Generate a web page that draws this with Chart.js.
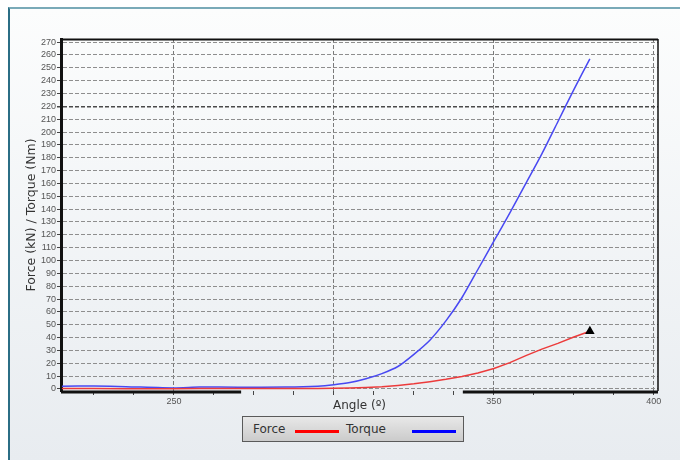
<!DOCTYPE html>
<html>
<head>
<meta charset="utf-8">
<script src="https://cdn.jsdelivr.net/npm/chart.js@4.4.1/dist/chart.umd.min.js"></script>
<style>
  html, body { margin: 0; padding: 0; background: #fff; }
  #wrap { position: relative; width: 680px; height: 460px; overflow: hidden; }
  #panel {
    position: absolute; left: 8px; top: 7px; right: 0; bottom: 0;
    border-top: 2px solid #7aaab8; border-left: 2px solid #2b6e85;
    background: linear-gradient(#fcfdfd, #e8ecf0);
  }
  #forceChart { position: absolute; left: 0; top: 0; }
  #legend {
    position: absolute; left: 242px; top: 416px; width: 220px; height: 24px;
    border: 1px solid #5a5a5a; background: linear-gradient(#e8e8e8, #cbcbcb);
    font: 12px "DejaVu Sans", sans-serif; color: #333;
  }
  #legend .name { position: absolute; top: 5px; line-height: 14px; }
  #legend .swatch { position: absolute; top: 13px; width: 44px; height: 3px; }
</style>
</head>
<body>
<div id="wrap">
  <div id="panel"></div>
  <canvas id="forceChart" width="680" height="460"></canvas>
  <div id="legend"></div>
</div>
<script>
// angle (deg) sampled along the stroke
const angles = [215, 225, 235, 250, 258, 270, 285, 295, 300, 305, 310, 315, 320, 325, 330, 335, 340, 345, 350, 355, 360, 365, 370, 375, 380];
const forceKN = [0.3, 0.3, 0.2, 0.2, 0.3, 0.3, 0.3, 0.4, 0.5, 0.8, 1.2, 1.8, 2.8, 4, 5.7, 7.5, 9.8, 12.5, 16, 20.5, 26, 31, 35.5, 40.5, 45];
const torqueNm = [2.2, 2.3, 1.8, 0.8, 1.5, 1.4, 1.5, 2.2, 3.3, 5, 8, 12, 17.5, 27, 38, 53, 71, 93, 115, 137, 160, 183, 208, 233, 257];

const seriesNames = ['Force', 'Torque'];
const seriesColors = ['#ec3b3b', '#4848f2'];
const swatchColors = ['#ff0000', '#0000ff'];

const yTicks = [0, 10, 20, 30, 40, 50, 60, 70, 80, 90, 100, 110, 120, 130, 140, 150, 160, 170, 180, 190, 200, 210, 220, 230, 240, 250, 260, 270];
const xTicks = [225, 237.5, 250, 262.5, 275, 287.5, 300, 312.5, 325, 337.5, 350, 362.5, 375, 387.5, 400];
const xLabels = [250, 350, 400];

function toPoints(ys) {
  return angles.map((a, i) => ({ x: a, y: ys[i] }));
}

// plot frame: top/right edges and the broken bottom axis
const framePlugin = {
  id: 'frame',
  afterDraw(chart) {
    const { ctx, chartArea: a, scales } = chart;
    const x = scales.x;
    ctx.save();
    ctx.strokeStyle = '#111';
    ctx.lineWidth = 2;
    ctx.beginPath();
    ctx.moveTo(a.left, a.top + 0.5);
    ctx.lineTo(a.right, a.top + 0.5);
    ctx.stroke();
    ctx.lineWidth = 1.5;
    ctx.beginPath();
    ctx.moveTo(a.right, a.top);
    ctx.lineTo(a.right, a.bottom);
    ctx.stroke();
    ctx.lineWidth = 3;
    ctx.beginPath();
    ctx.moveTo(a.left, a.bottom + 1);
    ctx.lineTo(x.getPixelForValue(271), a.bottom + 1);
    ctx.moveTo(x.getPixelForValue(340.3), a.bottom + 1);
    ctx.lineTo(a.right, a.bottom + 1);
    ctx.stroke();
    ctx.restore();
  }
};

const lastIdx = angles.length - 1;

const config = {
  type: 'line',
  data: {
    datasets: [{
      label: seriesNames[0],
      data: toPoints(forceKN),
      borderColor: seriesColors[0],
      borderWidth: 1.5,
      tension: 0,
      pointStyle: 'triangle',
      pointRadius: (c) => c.dataIndex === lastIdx ? 4 : 0,
      pointBackgroundColor: '#000',
      pointBorderColor: '#000',
      order: 1
    }, {
      label: seriesNames[1],
      data: toPoints(torqueNm),
      borderColor: seriesColors[1],
      borderWidth: 1.5,
      tension: 0.2,
      pointRadius: 0,
      order: 2
    }]
  },
  options: {
    responsive: false,
    animation: false,
    layout: { padding: { left: 18, top: 39, right: 22, bottom: 47 } },
    plugins: { legend: { display: false }, tooltip: { enabled: false } },
    scales: {
      x: {
        type: 'linear',
        min: 214.7,
        max: 401.3,
        afterBuildTicks: (s) => { s.ticks = xTicks.map(v => ({ value: v })); },
        afterFit: (s) => { s.height = 22; },
        ticks: {
          autoSkip: false,
          maxRotation: 0,
          padding: 1,
          color: '#555',
          font: { family: 'Liberation Sans', size: 9 },
          callback: (v) => xLabels.includes(v) ? String(v) : ''
        },
        grid: {
          color: (c) => (c.tick && c.tick.value % 50 === 0) ? '#7a7a7a' : 'rgba(0,0,0,0)',
          lineWidth: 1,
          tickLength: 4,
          tickColor: '#444',
          tickBorderDash: []
        },
        border: { display: false, dash: [4, 2] },
        title: {
          display: true,
          text: 'Angle (º)',
          color: '#333',
          font: { family: 'DejaVu Sans', size: 12 },
          padding: { top: 0, bottom: 0 }
        }
      },
      y: {
        min: -1.56,
        max: 272.4,
        afterBuildTicks: (s) => { s.ticks = yTicks.map(v => ({ value: v })); },
        afterFit: (s) => { s.width = 43; },
        ticks: {
          autoSkip: false,
          padding: 1,
          color: '#555',
          font: { family: 'Liberation Sans', size: 9 }
        },
        grid: {
          color: (c) => (c.tick && c.tick.value === 220) ? '#4a4a4a' : '#8e8e8e',
          lineWidth: (c) => (c.tick && c.tick.value === 220) ? 1.5 : 1,
          tickLength: 4,
          tickColor: '#444',
          tickBorderDash: []
        },
        border: { display: true, color: '#111', width: 3, dash: [4, 2] },
        title: {
          display: true,
          text: 'Force (kN) / Torque (Nm)',
          color: '#333',
          font: { family: 'DejaVu Sans', size: 12.5 },
          padding: { top: 6, bottom: 0 }
        }
      }
    }
  },
  plugins: [framePlugin]
};

const forceChart = new Chart(document.getElementById('forceChart').getContext('2d'), config);

// legend box under the axis title
const legend = document.getElementById('legend');
const itemPos = [[10, 52], [103, 169]];
forceChart.data.datasets.forEach((ds, i) => {
  const name = document.createElement('span');
  name.className = 'name';
  name.style.left = itemPos[i][0] + 'px';
  name.textContent = ds.label;
  const sw = document.createElement('span');
  sw.className = 'swatch';
  sw.style.left = itemPos[i][1] + 'px';
  sw.style.background = swatchColors[i];
  legend.appendChild(name);
  legend.appendChild(sw);
});
</script>
</body>
</html>
